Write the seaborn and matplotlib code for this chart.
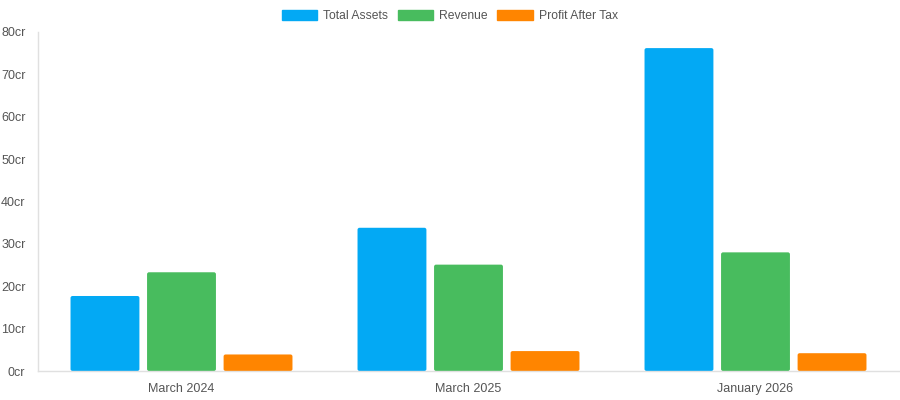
import pandas as pd
import matplotlib
matplotlib.use('Agg')
import matplotlib.pyplot as plt
import matplotlib.ticker as mticker
from matplotlib.patches import FancyBboxPatch
import seaborn as sns

# ── Data (values in crore) ──────────────────────────────────────
periods = ['March 2024', 'March 2025', 'January 2026']
series = ['Total Assets', 'Revenue', 'Profit After Tax']
total_assets = [17.7, 33.8, 76.2]
revenue = [23.3, 25.1, 28.0]
profit_after_tax = [3.9, 4.7, 4.2]
colors = ['#03A9F4', '#48BC5E', '#FF8500']
y_ticks = [0, 10, 20, 30, 40, 50, 60, 70, 80]

df = pd.DataFrame({
    'period': periods * 3,
    'metric': [s for s in series for _ in periods],
    'value': total_assets + revenue + profit_after_tax,
})

# ── Chart ───────────────────────────────────────────────────────
sns.set_style('white')
plt.rcParams['font.family'] = ['Liberation Sans', 'DejaVu Sans']

fig = plt.figure(figsize=(9, 4), dpi=100)
ax = fig.add_axes([38 / 900, 29 / 400, 861 / 900, 339 / 400])

sns.barplot(data=df, x='period', y='value', hue='metric', order=periods,
            hue_order=series, palette=colors, width=0.8, gap=0.1,
            saturation=1, linewidth=0, ax=ax, legend=False)

ax.set_xlim(-0.5, 2.5)
ax.set_ylim(0, 80)

# swap the plain bars for slightly rounded ones (~2px corner radius)
px_x = (ax.get_xlim()[1] - ax.get_xlim()[0]) / 861
px_y = (ax.get_ylim()[1] - ax.get_ylim()[0]) / 339
for bar in list(ax.patches):
    x, y = bar.get_x(), bar.get_y()
    w, h = bar.get_width(), bar.get_height()
    fc = bar.get_facecolor()
    bar.remove()
    ax.add_patch(FancyBboxPatch((x, y), w, h,
                                boxstyle=f'round,pad=0,rounding_size={2 * px_x}',
                                mutation_aspect=px_y / px_x,
                                facecolor=fc, edgecolor='none'))

ax.set_yticks(y_ticks)
ax.yaxis.set_major_formatter(mticker.FuncFormatter(lambda v, _: f'{v:.0f}cr'))
ax.set_xlabel('')
ax.set_ylabel('')
ax.tick_params(axis='both', length=0, labelsize=9, labelcolor='#555555')
ax.tick_params(axis='y', pad=9)
ax.tick_params(axis='x', pad=15)
for lbl in ax.get_xticklabels():
    lbl.set_va('baseline')

for side in ['top', 'right']:
    ax.spines[side].set_visible(False)
for side in ['left', 'bottom']:
    ax.spines[side].set_color('#e0e0e0')
    ax.spines[side].set_linewidth(1)

handles = [plt.Rectangle((0, 0), 1, 1, color=c) for c in colors]
fig.legend(handles, series, loc='upper center', bbox_to_anchor=(0.5, 1.003),
           ncol=3, frameon=False, fontsize=8.7, handlelength=2.9, handleheight=1.0,
           handletextpad=0.5, columnspacing=0.8, labelcolor='#555555')

plt.savefig('out.png', dpi=100)
